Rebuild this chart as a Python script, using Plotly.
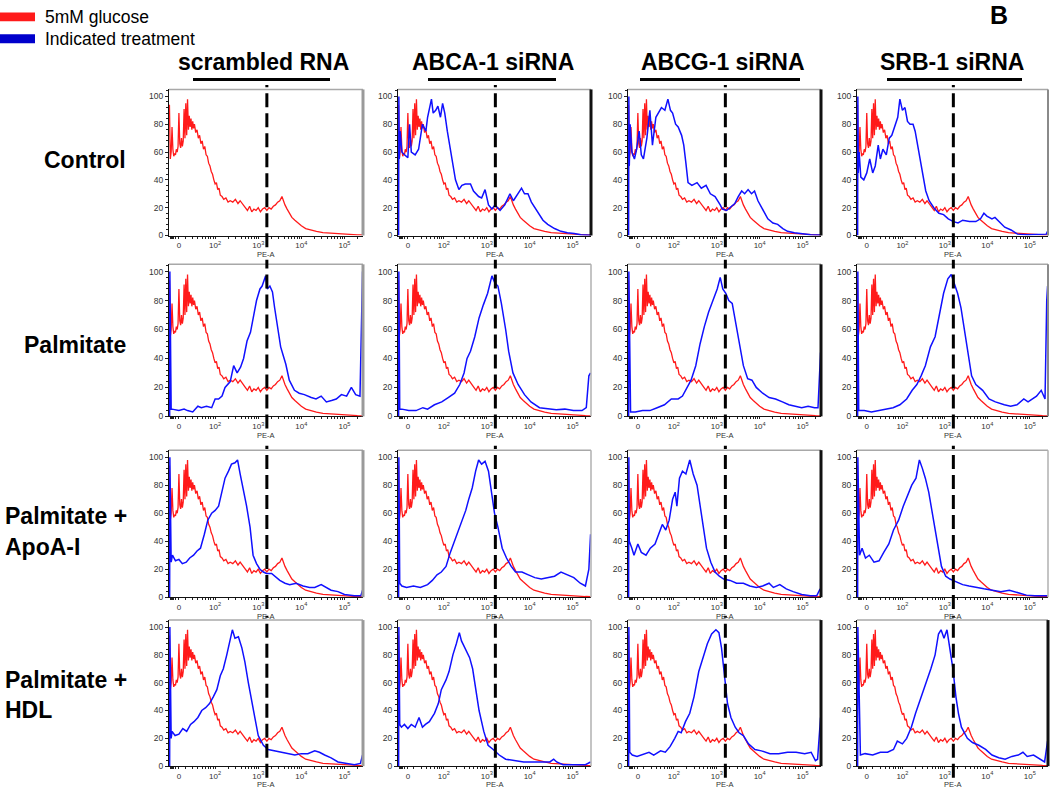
import math
import plotly.graph_objects as go

W, H = 1050, 796

COLUMNS = ["scrambled RNA", "ABCA-1 siRNA", "ABCG-1 siRNA", "SRB-1 siRNA"]
ROW_LINES = [["Control"], ["Palmitate"], ["Palmitate +", "ApoA-I"], ["Palmitate +", "HDL"]]
LEGEND = ["5mM glucose", "Indicated treatment"]
X_TITLE = "PE-A"
X_TICK_VALS = [1.16, 2, 3, 4, 5]
X_TICK_TEXT = ["0", "10<sup>2</sup>", "10<sup>3</sup>", "10<sup>4</sup>", "10<sup>5</sup>"]
Y_TICK_VALS = [0, 20, 40, 60, 80, 100]
GATE = 3.2  # dashed gate, log10(PE-A)

# 5mM glucose (same reference histogram in every panel): (log10 PE-A position, % of max)
RED = [(0.94, 94), (0.96, 55), (0.98, 60), (1.00, 78), (1.02, 62), (1.04, 57), (1.06, 59), (1.08, 58),
       (1.10, 62), (1.12, 60), (1.14, 64), (1.16, 88), (1.18, 66), (1.20, 63), (1.22, 70), (1.24, 64),
       (1.26, 68), (1.28, 91), (1.30, 70), (1.32, 95), (1.34, 72), (1.36, 98), (1.38, 76), (1.40, 86),
       (1.42, 78), (1.44, 84), (1.46, 76), (1.48, 82), (1.50, 77), (1.52, 80), (1.55, 74), (1.58, 76),
       (1.61, 70), (1.64, 72), (1.67, 66), (1.70, 68), (1.73, 62), (1.76, 64), (1.79, 58), (1.82, 57),
       (1.85, 52), (1.88, 50), (1.91, 46), (1.94, 44), (1.97, 40), (2.00, 37), (2.03, 38), (2.06, 33),
       (2.09, 34), (2.12, 29), (2.16, 28), (2.20, 26), (2.25, 27), (2.30, 24), (2.35, 25), (2.41, 24),
       (2.47, 26), (2.53, 23), (2.58, 25), (2.64, 22), (2.70, 20), (2.75, 18), (2.80, 21), (2.85, 17),
       (2.90, 19), (2.95, 18), (3.00, 20), (3.05, 17), (3.10, 19), (3.15, 20), (3.20, 18), (3.25, 20),
       (3.30, 19), (3.35, 21), (3.40, 22), (3.45, 24), (3.50, 25), (3.55, 28), (3.58, 25), (3.62, 22),
       (3.67, 19), (3.72, 16), (3.78, 13), (3.85, 11), (3.92, 9), (4.00, 7), (4.10, 5), (4.20, 4),
       (4.35, 3), (4.50, 2), (4.70, 1.5), (4.90, 1), (5.10, 0.7), (5.30, 0.5), (5.42, 0.4)]

# Indicated treatment histograms, one per panel (row r, column c)
BLUE_R1C1 = []
BLUE_R1C2 = [(0.945, 0), (0.95, 100), (0.96, 55), (0.98, 75), (1.02, 60), (1.08, 58), (1.16, 56), (1.20, 80),
             (1.24, 60), (1.33, 58), (1.41, 62), (1.50, 80), (1.58, 75), (1.62, 85), (1.71, 98), (1.75, 88),
             (1.81, 90), (1.86, 93), (1.92, 85), (1.97, 95), (2.02, 88), (2.08, 75), (2.13, 66), (2.19, 55),
             (2.27, 40), (2.35, 33), (2.42, 36), (2.50, 37), (2.62, 37), (2.69, 32), (2.81, 28), (2.88, 27),
             (2.96, 33), (3.04, 22), (3.12, 19), (3.19, 22), (3.31, 18), (3.42, 22), (3.54, 30), (3.62, 25),
             (3.73, 30), (3.81, 34), (3.88, 30), (3.96, 30), (4.04, 24), (4.12, 20), (4.19, 16), (4.31, 11),
             (4.42, 8), (4.58, 5), (4.73, 3), (4.88, 2), (5.04, 1.5), (5.19, 0.5), (5.42, 0.2)]
BLUE_R1C3 = [(0.945, 0), (0.95, 100), (0.96, 50), (0.98, 80), (1.02, 60), (1.08, 55), (1.13, 62), (1.19, 75),
             (1.24, 58), (1.29, 55), (1.37, 70), (1.44, 90), (1.50, 65), (1.58, 85), (1.64, 88), (1.71, 92),
             (1.79, 90), (1.86, 98), (1.92, 90), (1.97, 88), (2.04, 80), (2.10, 78), (2.18, 72), (2.23, 65),
             (2.28, 52), (2.33, 38), (2.42, 36), (2.54, 38), (2.64, 34), (2.75, 36), (2.85, 30), (2.96, 28),
             (3.08, 22), (3.13, 19), (3.23, 18), (3.33, 21), (3.42, 23), (3.50, 28), (3.58, 32), (3.65, 30),
             (3.73, 33), (3.81, 30), (3.88, 32), (3.96, 25), (4.08, 18), (4.19, 12), (4.31, 9), (4.42, 8),
             (4.54, 5), (4.65, 3), (4.81, 2), (4.96, 1.5), (5.19, 0.5), (5.42, 0.3)]
BLUE_R1C4 = [(0.945, 0), (0.95, 100), (0.96, 45), (0.98, 60), (1.00, 48), (1.02, 42), (1.09, 40), (1.16, 45),
             (1.23, 55), (1.30, 45), (1.36, 50), (1.43, 65), (1.48, 55), (1.54, 62), (1.62, 58), (1.69, 70),
             (1.75, 72), (1.82, 78), (1.89, 85), (1.94, 98), (2.00, 90), (2.06, 92), (2.12, 82), (2.18, 80),
             (2.25, 80), (2.30, 75), (2.36, 65), (2.42, 55), (2.48, 45), (2.55, 32), (2.63, 25), (2.74, 20),
             (2.86, 16), (2.97, 15), (3.08, 12), (3.20, 10), (3.31, 9), (3.42, 11), (3.58, 10), (3.73, 10),
             (3.84, 12), (3.92, 16), (3.99, 14), (4.11, 12), (4.18, 13), (4.30, 9), (4.41, 6), (4.56, 4),
             (4.71, 1), (4.94, 0.5), (5.17, 0.5), (5.39, 1), (5.42, 3)]
BLUE_R2C1 = [(0.945, 0), (0.95, 100), (0.98, 5), (1.00, 5), (1.16, 4), (1.28, 5), (1.36, 4), (1.48, 3),
             (1.60, 7), (1.68, 6), (1.80, 7), (1.92, 6), (2.00, 12), (2.08, 12), (2.16, 14), (2.23, 20),
             (2.35, 24), (2.43, 35), (2.51, 30), (2.59, 34), (2.66, 40), (2.74, 52), (2.82, 58), (2.90, 70),
             (2.96, 80), (3.04, 88), (3.09, 90), (3.17, 97), (3.21, 88), (3.27, 90), (3.33, 86), (3.38, 75),
             (3.45, 62), (3.52, 48), (3.60, 40), (3.64, 36), (3.72, 25), (3.84, 18), (3.95, 16), (4.07, 15),
             (4.23, 13), (4.34, 12), (4.46, 14), (4.58, 10), (4.70, 11), (4.81, 12), (4.93, 15), (5.05, 14),
             (5.16, 20), (5.26, 15), (5.36, 14), (5.40, 60), (5.42, 100)]
BLUE_R2C2 = [(0.945, 0), (0.95, 100), (0.97, 5), (1.02, 5), (1.18, 4), (1.35, 4), (1.51, 6), (1.62, 5),
             (1.78, 8), (1.95, 10), (2.10, 13), (2.25, 16), (2.37, 22), (2.47, 30), (2.54, 40), (2.62, 45),
             (2.72, 55), (2.82, 68), (2.92, 77), (3.02, 85), (3.12, 97), (3.19, 92), (3.26, 90), (3.34, 78),
             (3.44, 60), (3.51, 45), (3.61, 30), (3.73, 22), (3.88, 15), (4.03, 10), (4.23, 6), (4.43, 5),
             (4.62, 4.5), (4.82, 5), (5.02, 4), (5.22, 4), (5.32, 6), (5.38, 28), (5.42, 30)]
BLUE_R2C3 = [(0.945, 0), (0.95, 100), (0.99, 3), (1.10, 3), (1.27, 4), (1.44, 4), (1.61, 6), (1.78, 8),
             (1.94, 12), (2.10, 12), (2.20, 14), (2.30, 20), (2.40, 25), (2.51, 35), (2.61, 50), (2.71, 62),
             (2.81, 72), (2.91, 80), (3.01, 88), (3.08, 96), (3.14, 88), (3.21, 85), (3.28, 80), (3.36, 78),
             (3.44, 65), (3.52, 50), (3.62, 35), (3.72, 26), (3.82, 25), (3.92, 20), (4.07, 16), (4.22, 13),
             (4.37, 12), (4.53, 10), (4.68, 8), (4.83, 7), (4.98, 6), (5.13, 7), (5.28, 6), (5.36, 6),
             (5.40, 40), (5.42, 44)]
BLUE_R2C4 = [(0.945, 0), (0.95, 100), (0.97, 4), (1.10, 4), (1.27, 3), (1.44, 4), (1.61, 5), (1.78, 6),
             (1.94, 8), (2.10, 12), (2.23, 18), (2.34, 22), (2.44, 28), (2.54, 35), (2.66, 48), (2.77, 55),
             (2.87, 70), (2.97, 85), (3.07, 95), (3.15, 98), (3.22, 92), (3.30, 85), (3.38, 75), (3.46, 60),
             (3.53, 45), (3.63, 28), (3.73, 22), (3.89, 18), (4.04, 12), (4.19, 10), (4.40, 8), (4.55, 7),
             (4.70, 8), (4.86, 12), (4.96, 10), (5.06, 12), (5.16, 14), (5.27, 18), (5.36, 12), (5.40, 80),
             (5.42, 90)]
BLUE_R3C1 = [(0.945, 0), (0.95, 100), (0.98, 25), (1.01, 30), (1.08, 26), (1.16, 27), (1.24, 24), (1.33, 25),
             (1.41, 28), (1.50, 30), (1.58, 33), (1.66, 35), (1.75, 45), (1.83, 55), (1.92, 60), (2.00, 62),
             (2.08, 65), (2.15, 75), (2.23, 85), (2.31, 90), (2.38, 95), (2.46, 96), (2.52, 98), (2.58, 88),
             (2.65, 78), (2.73, 65), (2.81, 50), (2.88, 30), (2.96, 24), (3.04, 20), (3.12, 18), (3.19, 17),
             (3.31, 17), (3.38, 15), (3.50, 12), (3.62, 10), (3.73, 9), (3.88, 10), (4.04, 8), (4.19, 7),
             (4.31, 7), (4.46, 9), (4.58, 7), (4.69, 5), (4.85, 4), (5.00, 2), (5.23, 1), (5.38, 1), (5.42, 5)]
BLUE_R3C2 = [(0.945, 0), (0.95, 100), (0.97, 10), (1.02, 8), (1.13, 7), (1.29, 8), (1.45, 7), (1.62, 9),
             (1.73, 12), (1.84, 16), (1.94, 18), (2.05, 22), (2.15, 32), (2.25, 40), (2.35, 48), (2.43, 55),
             (2.51, 62), (2.58, 70), (2.66, 78), (2.74, 90), (2.81, 98), (2.88, 95), (2.96, 97), (3.04, 90),
             (3.11, 75), (3.18, 60), (3.26, 50), (3.36, 35), (3.46, 28), (3.57, 22), (3.67, 18), (3.82, 18),
             (3.97, 16), (4.12, 14), (4.27, 13), (4.42, 14), (4.58, 15), (4.73, 18), (4.88, 16), (5.03, 14),
             (5.18, 10), (5.30, 8), (5.38, 20), (5.42, 45)]
BLUE_R3C3 = [(0.945, 0), (0.95, 100), (0.96, 40), (1.02, 35), (1.07, 30), (1.16, 38), (1.24, 32), (1.35, 30),
             (1.45, 35), (1.56, 38), (1.64, 45), (1.73, 52), (1.81, 48), (1.89, 55), (1.97, 70), (2.03, 75),
             (2.07, 65), (2.13, 85), (2.20, 90), (2.28, 88), (2.37, 98), (2.45, 88), (2.54, 80), (2.61, 65),
             (2.68, 50), (2.76, 35), (2.86, 25), (2.96, 18), (3.06, 15), (3.16, 13), (3.31, 12), (3.46, 10),
             (3.62, 10), (3.77, 8), (3.92, 7), (4.07, 8), (4.22, 10), (4.32, 7), (4.47, 9), (4.62, 6),
             (4.78, 4), (4.98, 2), (5.18, 1), (5.33, 1), (5.41, 6)]
BLUE_R3C4 = [(0.945, 0), (0.95, 100), (0.99, 30), (1.05, 35), (1.13, 28), (1.22, 30), (1.33, 25), (1.45, 26),
             (1.56, 32), (1.68, 38), (1.79, 48), (1.91, 55), (2.02, 65), (2.12, 72), (2.22, 80), (2.32, 85),
             (2.40, 98), (2.47, 92), (2.54, 85), (2.62, 75), (2.72, 58), (2.82, 38), (2.92, 22), (3.02, 15),
             (3.12, 13), (3.27, 11), (3.42, 9), (3.57, 8), (3.72, 7), (3.92, 6), (4.12, 5), (4.32, 4),
             (4.52, 5), (4.72, 3), (4.92, 1.5), (5.12, 1), (5.32, 1), (5.42, 1)]
BLUE_R4C1 = [(0.945, 0), (0.95, 100), (0.98, 20), (1.00, 25), (1.07, 22), (1.16, 23), (1.25, 27), (1.34, 25),
             (1.43, 30), (1.51, 32), (1.60, 35), (1.69, 40), (1.78, 42), (1.87, 45), (1.96, 50), (2.04, 55),
             (2.12, 65), (2.19, 70), (2.27, 80), (2.35, 92), (2.40, 98), (2.46, 92), (2.54, 93), (2.62, 85),
             (2.69, 75), (2.77, 60), (2.85, 45), (2.92, 35), (3.00, 22), (3.12, 15), (3.23, 12), (3.38, 11),
             (3.54, 10), (3.69, 9), (3.85, 8), (4.00, 9), (4.15, 9), (4.31, 11), (4.42, 10), (4.54, 8),
             (4.69, 6), (4.85, 3), (5.00, 2), (5.23, 1), (5.37, 2), (5.42, 8)]
BLUE_R4C2 = [(0.945, 0), (0.95, 100), (0.97, 30), (1.01, 28), (1.08, 30), (1.16, 27), (1.24, 30), (1.33, 28),
             (1.42, 35), (1.50, 28), (1.57, 30), (1.66, 32), (1.78, 38), (1.87, 45), (1.94, 55), (2.05, 62),
             (2.12, 68), (2.21, 80), (2.29, 88), (2.36, 96), (2.41, 90), (2.49, 85), (2.60, 78), (2.67, 70),
             (2.74, 55), (2.82, 40), (2.93, 25), (3.03, 15), (3.15, 12), (3.29, 8), (3.44, 5), (3.65, 4),
             (3.86, 3), (4.06, 3), (4.27, 3), (4.47, 3), (4.56, 5), (4.63, 3), (4.78, 1), (4.99, 1),
             (5.20, 0.5), (5.30, 1), (5.42, 3)]
BLUE_R4C3 = [(0.945, 0), (0.95, 100), (0.97, 10), (1.03, 8), (1.14, 7), (1.25, 8), (1.42, 10), (1.53, 8),
             (1.69, 11), (1.80, 10), (1.91, 14), (2.02, 20), (2.10, 25), (2.17, 24), (2.27, 32), (2.37, 38),
             (2.47, 50), (2.58, 68), (2.68, 78), (2.78, 88), (2.88, 95), (2.98, 98), (3.05, 96), (3.11, 85),
             (3.18, 65), (3.25, 45), (3.33, 35), (3.43, 28), (3.52, 24), (3.62, 22), (3.74, 16), (3.89, 12),
             (4.04, 11), (4.24, 9), (4.44, 9), (4.65, 10), (4.85, 10), (5.05, 9), (5.20, 10), (5.30, 4),
             (5.35, 5), (5.42, 35)]
BLUE_R4C4 = [(0.945, 0), (0.95, 100), (1.01, 8), (1.12, 9), (1.30, 8), (1.48, 10), (1.65, 10), (1.79, 12),
             (1.88, 18), (2.00, 16), (2.10, 20), (2.21, 28), (2.31, 38), (2.39, 45), (2.46, 52), (2.57, 60),
             (2.67, 70), (2.77, 80), (2.85, 95), (2.91, 98), (2.98, 92), (3.05, 98), (3.11, 85), (3.19, 70),
             (3.26, 50), (3.32, 38), (3.39, 28), (3.53, 20), (3.65, 17), (3.80, 15), (3.96, 12), (4.11, 8),
             (4.27, 6), (4.42, 5), (4.58, 7), (4.73, 8), (4.84, 10), (4.94, 7), (5.09, 8), (5.25, 5),
             (5.35, 3), (5.42, 18)]

BLUE = [[BLUE_R1C1, BLUE_R1C2, BLUE_R1C3, BLUE_R1C4],
        [BLUE_R2C1, BLUE_R2C2, BLUE_R2C3, BLUE_R2C4],
        [BLUE_R3C1, BLUE_R3C2, BLUE_R3C3, BLUE_R3C4],
        [BLUE_R4C1, BLUE_R4C2, BLUE_R4C3, BLUE_R4C4]]

# ---------------- layout (pixels) ----------------
COL_PX = [(169, 363), (398, 591), (628, 821), (857, 1048)]
ROW_PX = [(90, 237), (266, 419), (453, 601), (624, 771)]
TITLE_DY = [19, 19, 19, 18]
RIGHT_EDGE = [[("#9a9a9a", 3), ("#111111", 3), ("#111111", 3), ("#8a8a8a", 2)],
              [("#9a9a9a", 3), ("#b0b0b0", 1.5), ("#111111", 3), ("#8a8a8a", 2)],
              [("#9a9a9a", 3), ("#b0b0b0", 1.5), ("#111111", 3), ("#b0b0b0", 1.5)],
              [("#9a9a9a", 3), ("#b0b0b0", 1.5), ("#111111", 3), ("#111111", 3)]]
RED_C = "#ff1a1a"
BLUE_C = "#1010ff"
FONT = "Liberation Sans, Arial, sans-serif"


def px_x(x):
    return x / W


def px_y(y):
    return 1 - y / H


minor_x = [0.97, 0.985, 1.0, 1.015, 1.03, 1.08]
for k in range(2, 10):
    minor_x.append(2 + math.log10(k / 10))
    for n in (2, 3, 4):
        minor_x.append(n + math.log10(k))
minor_x.append(5 + math.log10(2))

fig = go.Figure()
layout = {}
shapes = []
annotations = []

for r in range(4):
    for c in range(4):
        n = r * 4 + c + 1
        sfx = "" if n == 1 else str(n)
        xa, ya = "x" + sfx, "y" + sfx
        fig.add_trace(go.Scatter(x=[p[0] for p in RED], y=[p[1] for p in RED], mode="lines",
                                 line=dict(color=RED_C, width=1.3), xaxis=xa, yaxis=ya,
                                 showlegend=False, hoverinfo="skip"))
        b = BLUE[r][c]
        if b:
            fig.add_trace(go.Scatter(x=[p[0] for p in b], y=[p[1] for p in b], mode="lines",
                                     line=dict(color=BLUE_C, width=1.5), xaxis=xa, yaxis=ya,
                                     showlegend=False, hoverinfo="skip"))
        x0, x1 = COL_PX[c]
        yt, yb = ROW_PX[r]
        layout["xaxis" + sfx] = dict(
            domain=[px_x(x0), px_x(x1)], anchor=ya, range=[0.93, 5.43],
            tickvals=X_TICK_VALS, ticktext=X_TICK_TEXT, ticks="outside", ticklen=2,
            tickcolor="#222", tickwidth=1,
            tickfont=dict(size=8, color="#333", family=FONT),
            minor=dict(tickvals=minor_x, ticks="outside", ticklen=2, tickcolor="#222"),
            showline=True, linecolor="#111", linewidth=1, showgrid=False, zeroline=False,
            layer="below traces", fixedrange=True)
        layout["yaxis" + sfx] = dict(
            domain=[px_y(yb), px_y(yt)], anchor=xa, range=[0, 105],
            tickvals=Y_TICK_VALS, ticks="outside", ticklen=3, tickcolor="#222",
            tickfont=dict(size=8.5, color="#333", family=FONT),
            minor=dict(dtick=4, ticks="outside", ticklen=2, tickcolor="#222"),
            showline=True, linecolor="#111", linewidth=1, showgrid=False, zeroline=False,
            layer="below traces", fixedrange=True)
        annotations.append(dict(text=X_TITLE, x=px_x((x0 + x1) / 2), y=px_y(yb + TITLE_DY[r]),
                                xref="paper", yref="paper", xanchor="center", yanchor="middle",
                                showarrow=False, font=dict(size=7.5, color="#333", family=FONT)))
        dx, dy = xa + " domain", ya + " domain"
        shapes.append(dict(type="line", xref=dx, yref=dy, x0=0, x1=1, y0=1, y1=1,
                           line=dict(color="#a8a8a8", width=1.5)))
        col, wdt = RIGHT_EDGE[r][c]
        shapes.append(dict(type="line", xref=dx, yref=dy, x0=1, x1=1, y0=0, y1=1,
                           line=dict(color=col, width=wdt)))
        shapes.append(dict(type="line", xref=xa, yref=dy, x0=GATE, x1=GATE, y0=-0.08, y1=1.03,
                           line=dict(color="black", width=3, dash="14px,6px")))

# column headers and underline bars
COL_CENTER = [263, 493, 723, 952]
BAR_PX = [(193, 330), (428, 556), (640, 800), (887, 1022)]
for c, name in enumerate(COLUMNS):
    annotations.append(dict(text="<b>%s</b>" % name, x=px_x(COL_CENTER[c]), y=px_y(62),
                            xref="paper", yref="paper", xanchor="center", yanchor="middle",
                            showarrow=False, font=dict(size=23, color="black", family=FONT)))
    shapes.append(dict(type="line", xref="paper", yref="paper", x0=px_x(BAR_PX[c][0]),
                       x1=px_x(BAR_PX[c][1]), y0=px_y(80), y1=px_y(80),
                       line=dict(color="black", width=3)))

# row labels
ROW_LABEL_POS = [[(128, 161, "right")], [(128, 347, "right")],
                 [(3, 519, "left"), (3, 550, "left")], [(3, 684, "left"), (3, 714, "left")]]
for r, lines in enumerate(ROW_LINES):
    for (lx, ly, anc), txt in zip(ROW_LABEL_POS[r], lines):
        annotations.append(dict(text="<b>%s</b>" % txt, x=px_x(lx), y=px_y(ly), xref="paper",
                                yref="paper", xanchor=anc, yanchor="middle", showarrow=False,
                                font=dict(size=23, color="black", family=FONT)))

# legend
for i, (txt, colr) in enumerate(zip(LEGEND, [RED_C, "#0000cc"])):
    yc = 17 + i * 22
    shapes.append(dict(type="rect", xref="paper", yref="paper", x0=0, x1=px_x(35),
                       y0=px_y(yc + 4.5), y1=px_y(yc - 4.5), fillcolor=colr, line=dict(width=0)))
    annotations.append(dict(text=txt, x=px_x(43), y=px_y(yc), xref="paper", yref="paper",
                            xanchor="left", yanchor="middle", showarrow=False,
                            font=dict(size=17.5, color="black", family=FONT)))

annotations.append(dict(text="<b>B</b>", x=px_x(999), y=px_y(15), xref="paper", yref="paper",
                        xanchor="center", yanchor="middle", showarrow=False,
                        font=dict(size=25, color="black", family=FONT)))

fig.update_layout(width=W, height=H, margin=dict(l=0, r=0, t=0, b=0),
                  paper_bgcolor="white", plot_bgcolor="white",
                  shapes=shapes, annotations=annotations, **layout)

fig.write_html("out.html", config={"displayModeBar": False, "staticPlot": True},
               post_script="document.body.style.margin='0px';document.body.style.overflow='hidden';")
